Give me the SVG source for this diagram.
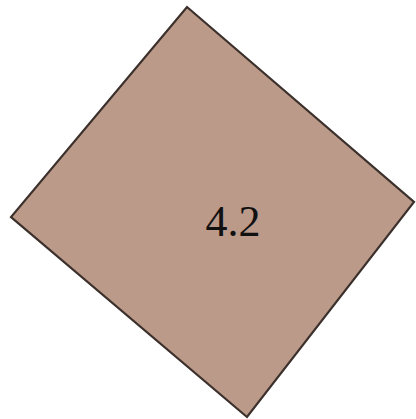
<svg xmlns="http://www.w3.org/2000/svg" width="416" height="419" viewBox="0 0 416 419">
<style>
.shape{fill:#bc9a8a;stroke:#3b302b;stroke-width:2.2;stroke-linejoin:miter}
.lbl{font-family:"Liberation Serif","Times New Roman",serif;font-size:44px;fill:#111;text-anchor:middle}
</style>
<rect width="416" height="419" fill="#ffffff"/>
<g id="node-4-2">
<polygon class="shape" points="187,7 414,202 247,417 11,217"/>
<text class="lbl" x="233" y="236">4.2</text>
</g>
<g id="connectors"></g>
</svg>
